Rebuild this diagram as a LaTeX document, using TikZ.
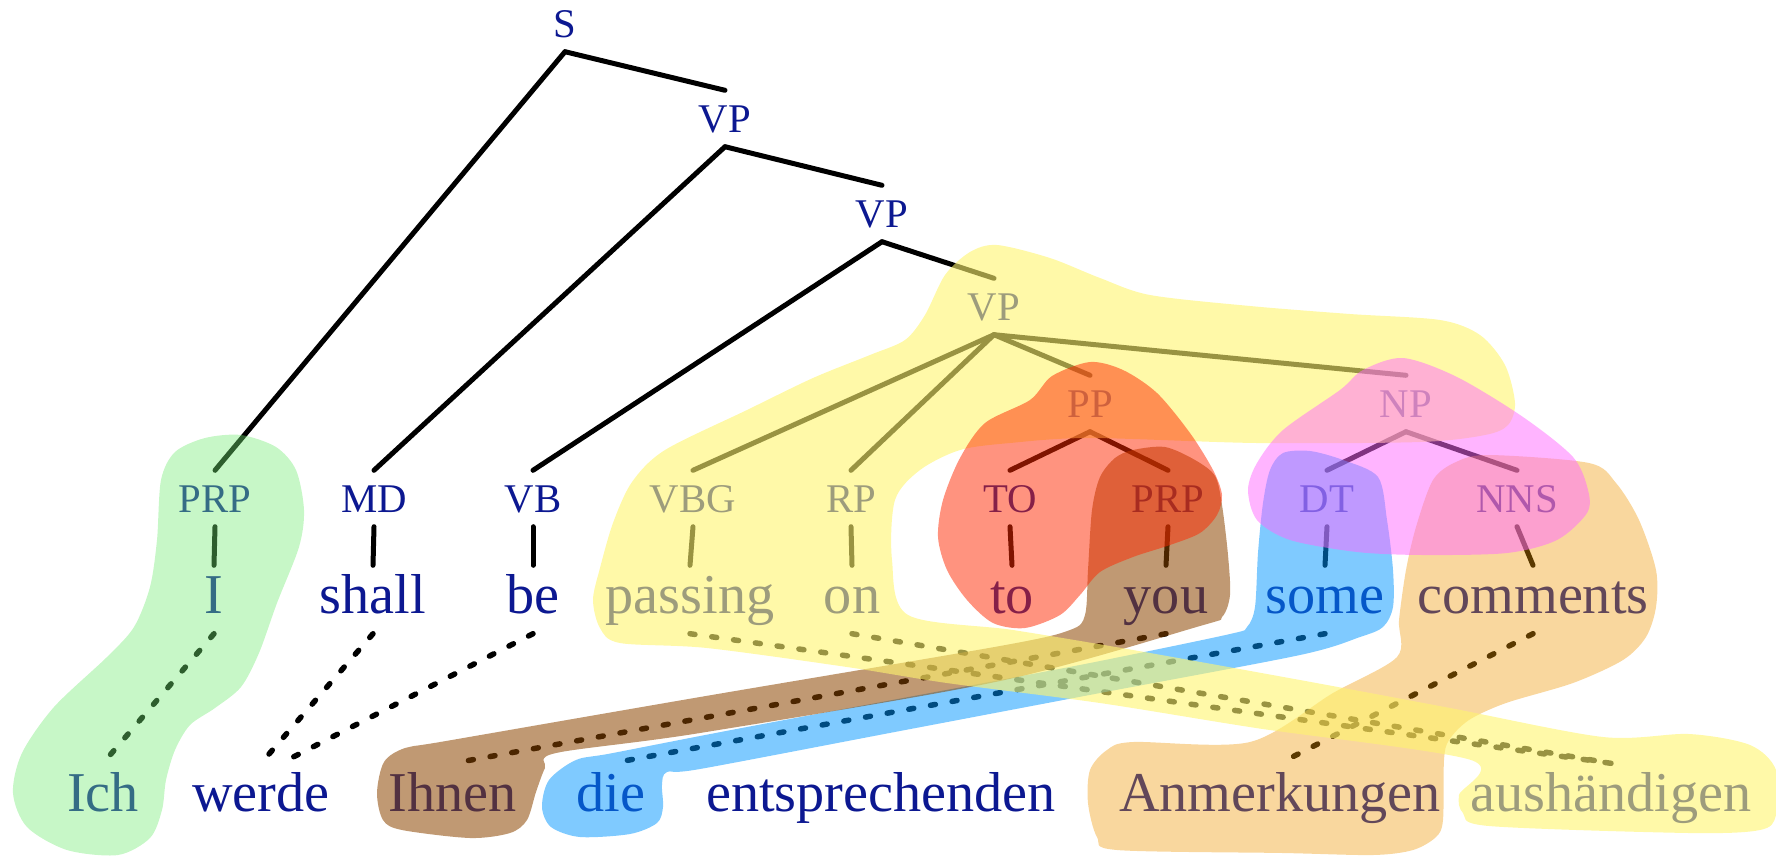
\documentclass[tikz,border=0pt]{standalone}
\usepackage{fontspec}
\setmainfont{Liberation Serif}
\definecolor{tblue}{RGB}{12,24,145}
\definecolor{bgreen}{RGB}{115,235,115}
\definecolor{byellow}{RGB}{255,245,110}
\definecolor{bred}{RGB}{255,40,0}
\definecolor{bbrown}{RGB}{140,70,0}
\definecolor{bblue}{RGB}{0,150,255}
\definecolor{bpink}{RGB}{255,105,255}
\definecolor{borange}{RGB}{240,150,0}

\begin{document}
\begin{tikzpicture}[x=.1mm,y=-.1mm,
  cat/.style={anchor=base,text=tblue,font=\fontsize{11.6}{13}\selectfont,inner xsep=0pt,inner ysep=1.4mm,text height=2.7mm,text depth=0pt},
  word/.style={anchor=base,text=tblue,font=\fontsize{16}{19}\selectfont,inner xsep=0pt,inner ysep=1mm,text height=3.7mm,text depth=1mm},
  edge/.style={line width=.5mm,line cap=round},
  link/.style={line width=.55mm,line cap=round,dash pattern=on .5mm off 1.7mm}]
\useasboundingbox (0,0) rectangle (1776,856);
% tree
\node[cat] (s) at (565,37) {S};
\node[cat] (vpA) at (725,132) {VP};
\node[cat] (vpB) at (882,227) {VP};
\node[cat] (vpC) at (994,320) {VP};
\node[cat] (pp) at (1090,417) {PP};
\node[cat] (np) at (1406,417) {NP};
\foreach \n/\x/\t in {prpA/215/PRP,md/374/MD,vb/533/VB,vbg/693/VBG,rp/851/RP,to/1010/TO,prpB/1168/PRP,dt/1327/DT,nns/1517/NNS}
  \node[cat] (\n) at (\x,512) {\t};
\foreach \n/\x/\t in {wI/214/I,wshall/373/shall,wbe/533/be,wpassing/690/passing,won/852/on,wto/1012/to,wyou/1166/you,wsome/1325/some,wcomments/1533/comments}
  \node[word] (\n) at (\x,613) {\t};
\foreach \n/\x/\t in {gIch/103/Ich,gwerde/261/werde,gIhnen/453/Ihnen,gdie/611/die,gentspr/881/entsprechenden,gAnm/1280/Anmerkungen,gaush/1611/aushändigen}
  \node[word] (\n) at (\x,811) {\t};
\foreach \a/\b in {s/prpA,s/vpA,vpA/md,vpA/vpB,vpB/vb,vpB/vpC,vpC/vbg,vpC/rp,vpC/pp,vpC/np,pp/to,pp/prpB,np/dt,np/nns,
  prpA/wI,md/wshall,vb/wbe,vbg/wpassing,rp/won,to/wto,prpB/wyou,dt/wsome,nns/wcomments}
  \draw[edge] (\a.south) -- (\b.north);
% alignment
\foreach \a/\b in {wI/gIch,wshall/gwerde,wpassing/gaush,won/gaush,wyou/gIhnen,wsome/gdie,wcomments/gAnm}
  \draw[link] (\a.south) -- (\b.north);
\draw[link] (wbe.south) -- ([xshift=2mm]gwerde.north);
% blobs
\fill[bgreen,fill opacity=.4] plot[smooth cycle] coordinates {(241,435) (276,447) (296,470) (304,510) (299,547) (277,603) (259,653) (241,687) (215,708) (190,725) (175,750) (166,780) (162,810) (150,838) (118,855) (67,850) (27,827) (13,793) (22,753) (54,707) (107,657) (134,627) (150,587) (157,540) (161,480) (175,452) (205,438)};
\fill[bblue,fill opacity=.5] plot[smooth cycle] coordinates {(1283,453) (1310,451) (1343,460) (1378,477) (1387,520) (1393,570) (1393,607) (1383,627) (1360,637) (1300,655) (1100,693) (900,731) (700,769) (667,772) (662,785) (663,807) (657,823) (630,834) (580,837) (551,827) (542,807) (549,780) (576,760) (613,753) (747,727) (1000,680) (1100,661) (1230,634) (1247,627) (1255,607) (1258,553) (1263,503) (1270,470)};
\fill[bbrown,fill opacity=.55] plot[smooth cycle] coordinates {(1133,450) (1165,447) (1195,460) (1215,476) (1222,505) (1228,555) (1230,595) (1222,617) (1200,626) (1000,681) (700,733) (556,753) (545,768) (536,792) (527,820) (510,833) (470,838) (402,830) (383,820) (377,793) (384,762) (405,748) (446,741) (700,697) (1000,646) (1070,630) (1085,615) (1088,570) (1092,510) (1100,477) (1115,458)};
\fill[borange,fill opacity=.38] plot[smooth cycle] coordinates {(1489,455) (1589,463) (1616,483) (1639,520) (1656,570) (1656,607) (1646,637) (1623,660) (1573,683) (1506,703) (1469,720) (1449,740) (1444,760) (1443,820) (1436,837) (1413,850) (1373,855) (1283,853) (1117,850) (1097,837) (1088,803) (1090,770) (1107,750) (1133,742) (1250,742) (1333,693) (1397,657) (1399,620) (1406,570) (1416,527) (1433,480) (1456,462)};
\fill[byellow,fill opacity=.6] plot[smooth cycle] coordinates {(997,245) (1050,258) (1100,278) (1150,295) (1250,306) (1350,314) (1440,320) (1480,335) (1505,365) (1515,403) (1508,425) (1485,435) (1420,442) (1257,443) (1090,438) (1010,443) (960,450) (920,470) (895,500) (892,560) (908,615) (1013,630) (1133,650) (1300,680) (1450,708) (1603,737) (1689,734) (1750,745) (1776,770) (1776,815) (1760,830) (1689,833) (1489,826) (1463,813) (1459,795) (1471,760) (1256,728) (1100,703) (947,683) (847,667) (707,648) (620,643) (600,628) (593,600) (600,568) (613,523) (632,482) (665,450) (747,410) (813,378) (870,355) (905,340) (925,315) (945,275) (970,252)};
\fill[bred,fill opacity=.5] plot[smooth cycle] coordinates {(1090,362) (1123,370) (1157,393) (1190,433) (1213,470) (1222,495) (1217,515) (1200,533) (1170,545) (1133,557) (1100,572) (1080,595) (1060,615) (1025,628) (993,623) (967,600) (947,570) (938,537) (943,500) (960,458) (985,423) (1030,400) (1052,376)};
\fill[bpink,fill opacity=.5] plot[smooth cycle] coordinates {(1403,358) (1457,377) (1523,417) (1573,457) (1588,490) (1587,513) (1557,540) (1507,553) (1423,555) (1357,552) (1290,540) (1257,520) (1248,490) (1257,463) (1283,430) (1340,390) (1363,370)};
\end{tikzpicture}
\end{document}
